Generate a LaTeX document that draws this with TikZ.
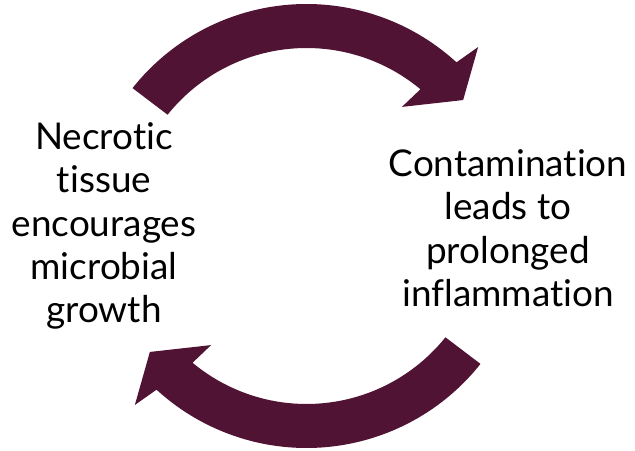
\documentclass[tikz,border=0pt]{standalone}
\usepackage{fontspec}
\setmainfont{Lato}[Ligatures={NoCommon}]
\usepackage{tikz}
\usetikzlibrary{positioning}
\definecolor{cyclemaroon}{RGB}{81,19,51}

\begin{document}
\begin{tikzpicture}[
    x=0.02cm, y=0.02cm,
    step text/.style={align=center, inner sep=0pt, font=\fontsize{21}{24.7}\selectfont},
    cycle arrow/.style={fill=cyclemaroon, draw=none}
]
    \useasboundingbox (0,0) rectangle (635,450);
    \coordinate (hub) at (306.5,224);

    % upper arrow, left to right
    \fill[cycle arrow, shift={(hub)}]
        (141.6:222) arc[start angle=141.6, end angle=47.5, radius=222]
        -- (46.2:248) -- (38.8:201) -- (51.3:152.6) -- (50.2:178)
        arc[start angle=50.2, end angle=141.3, radius=178] -- cycle;
    % lower arrow, right to left
    \fill[cycle arrow, shift={(hub)}]
        (321.6:222) arc[start angle=321.6, end angle=227.5, radius=222]
        -- (226.2:248) -- (218.8:201) -- (231.3:152.6) -- (230.2:178)
        arc[start angle=230.2, end angle=321.3, radius=178] -- cycle;

    \node[step text] (necrotic) at (104,224) {Necrotic\\tissue\\encourages\\microbial\\growth};
    \node[step text] (contam) at (508,222) {Contamination\\leads to\\prolonged\\inflammation};
\end{tikzpicture}
\end{document}
